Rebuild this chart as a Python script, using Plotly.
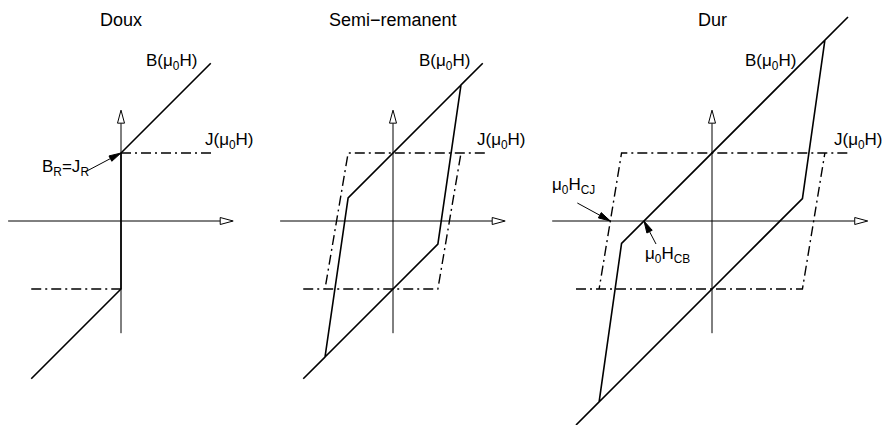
import math

import plotly.graph_objects as go

# --- data (units of J_R, i.e. remanent polarisation = 1) ---------------------
panels = ["Doux", "Semi\u2212remanent", "Dur"]

# Doux (soft)
doux_B_h = [-1.32, 0.0, 0.0, 1.32]
doux_B_b = [-2.32, -1.0, 1.0, 2.32]
doux_J_h = [-1.32, 0.0, None, 0.0, 1.34]
doux_J_j = [-1.0, -1.0, None, 1.0, 1.0]

# Semi-remanent
semi_B_h = [-1.32, -1.0, 0.66, 1.0, 1.32, 1.0, -0.66, -1.0, -1.32]
semi_B_b = [-2.32, -2.0, -0.34, 2.0, 2.32, 2.0, 0.34, -2.0, -2.32]
semi_J_h = [-1.32, 0.66, 1.0, None, 1.35, -0.66, -1.0]
semi_J_j = [-1.0, -1.0, 1.0, None, 1.0, 1.0, -1.0]

# Dur (hard)
dur_B_h = [-2.0, -1.66, 1.33, 1.66, 2.0, 1.66, -1.33, -1.66, -2.0]
dur_B_b = [-3.0, -2.66, 0.33, 2.66, 3.0, 2.66, -0.33, -2.66, -3.0]
dur_J_h = [-2.0, 1.33, 1.66, None, 1.99, -1.33, -1.66]
dur_J_j = [-1.0, -1.0, 1.0, None, 1.0, 1.0, -1.0]

# axis extents (H axis per panel, vertical axis shared)
axis_h = [(-1.66, 1.65), (-1.66, 1.65), (-2.35, 2.29)]
axis_v = (-1.65, 1.63)

# --- layout geometry -------------------------------------------------------
# the page body has an 8px margin, so the figure is 8px smaller than the window
W, HGT = 882, 417
S = 68.0                     # pixels per unit
Y0 = 213                     # pixel row of the H axis
X0 = [113, 385, 704]         # pixel column of each B axis
CUTS = [0, 262, 542, 882]    # panel boundaries in pixels

BLACK = "#000"
FONT = dict(family="Liberation Sans, Arial, sans-serif", size=17, color=BLACK)
TITLE_FONT = dict(FONT, size=18)

fig = go.Figure()
shapes = []
annotations = []


def head(xref, tip, ux, uy, length, half, fill):
    bx, by = tip[0] - ux * length / S, tip[1] - uy * length / S
    nx, ny = -uy, ux
    p1 = (bx + nx * half / S, by + ny * half / S)
    p2 = (bx - nx * half / S, by - ny * half / S)
    shapes.append(dict(
        type="path", xref=xref, yref="y",
        path=f"M{tip[0]},{tip[1]} L{p1[0]},{p1[1]} L{p2[0]},{p2[1]} Z",
        fillcolor=fill, line=dict(color=BLACK, width=1), layer="above",
    ))
    return bx, by


def pointer(xref, tip, dx_px, dy_px):
    # arrow whose tail sits dx_px, dy_px (screen pixels) from the tip
    tx, ty = tip[0] + dx_px / S, tip[1] - dy_px / S
    d = math.hypot(tip[0] - tx, tip[1] - ty)
    ux, uy = (tip[0] - tx) / d, (tip[1] - ty) / d
    bx, by = head(xref, tip, ux, uy, 12, 3, BLACK)
    shapes.append(dict(type="line", xref=xref, yref="y", x0=tx, y0=ty,
                       x1=bx, y1=by, line=dict(color=BLACK, width=1)))


curves = [
    (doux_B_h, doux_B_b, doux_J_h, doux_J_j),
    (semi_B_h, semi_B_b, semi_J_h, semi_J_j),
    (dur_B_h, dur_B_b, dur_J_h, dur_J_j),
]

for i, (bh, bb, jh, jj) in enumerate(curves):
    xa = "x" if i == 0 else f"x{i + 1}"
    # axes with open arrowheads
    hx0, hx1 = axis_h[i]
    bx, _ = head(xa, (hx1, 0.0), 1.0, 0.0, 13, 3.5, "white")
    fig.add_trace(go.Scatter(x=[hx0, bx], y=[0, 0], xaxis=xa, yaxis="y",
                             mode="lines", line=dict(color=BLACK, width=1),
                             hoverinfo="skip"))
    _, by = head(xa, (0.0, axis_v[1]), 0.0, 1.0, 13, 3.5, "white")
    fig.add_trace(go.Scatter(x=[0, 0], y=[axis_v[0], by], xaxis=xa, yaxis="y",
                             mode="lines", line=dict(color=BLACK, width=1),
                             hoverinfo="skip"))
    # J(mu0 H) dash-dot and B(mu0 H) solid
    fig.add_trace(go.Scatter(x=jh, y=jj, xaxis=xa, yaxis="y", mode="lines",
                             line=dict(color=BLACK, width=1.4,
                                       dash="10px,4px,2px,4px"),
                             hoverinfo="skip"))
    fig.add_trace(go.Scatter(x=bh, y=bb, xaxis=xa, yaxis="y", mode="lines",
                             line=dict(color=BLACK, width=1.6),
                             hoverinfo="skip"))
    # panel title, kept inside the top edge of the figure
    annotations.append(dict(x=0, y=1, xref=xa, yref="paper", text=panels[i],
                            showarrow=False, xanchor="center",
                            yanchor="top", font=TITLE_FONT))

# curve labels
labels = [
    ("x", 0.34, 2.34, "B(μ<sub>0</sub>H)"),
    ("x", 1.20, 1.18, "J(μ<sub>0</sub>H)"),
    ("x", -1.19, 0.78, "B<sub>R</sub>=J<sub>R</sub>"),
    ("x2", 0.35, 2.34, "B(μ<sub>0</sub>H)"),
    ("x2", 1.21, 1.18, "J(μ<sub>0</sub>H)"),
    ("x3", 0.46, 2.34, "B(μ<sub>0</sub>H)"),
    ("x3", 1.77, 1.18, "J(μ<sub>0</sub>H)"),
    ("x3", -2.38, 0.51, "μ<sub>0</sub>H<sub>CJ</sub>"),
    ("x3", -1.01, -0.50, "μ<sub>0</sub>H<sub>CB</sub>"),
]
for xa, lx, ly, txt in labels:
    annotations.append(dict(x=lx, y=ly, xref=xa, yref="y", text=txt,
                            showarrow=False, xanchor="left", yanchor="middle",
                            font=FONT))

pointer("x", (0.0, 1.0), -36, 19)
pointer("x3", (-1.495, 0.0), -33, -18)
pointer("x3", (-1.0, 0.0), 12, 23)

axis_common = dict(visible=False, showgrid=False, zeroline=False, fixedrange=True)
layout_axes = {}
for i in range(3):
    name = "xaxis" if i == 0 else f"xaxis{i + 1}"
    layout_axes[name] = dict(
        domain=[CUTS[i] / W, CUTS[i + 1] / W],
        range=[(CUTS[i] - X0[i]) / S, (CUTS[i + 1] - X0[i]) / S],
        anchor="y", **axis_common,
    )

fig.update_layout(
    width=W, height=HGT,
    margin=dict(l=0, r=0, t=0, b=0),
    paper_bgcolor="white", plot_bgcolor="white",
    showlegend=False,
    yaxis=dict(domain=[0, 1], range=[-(HGT - Y0) / S, Y0 / S], **axis_common),
    shapes=shapes, annotations=annotations,
    **layout_axes,
)

fig.write_html("out.html")
